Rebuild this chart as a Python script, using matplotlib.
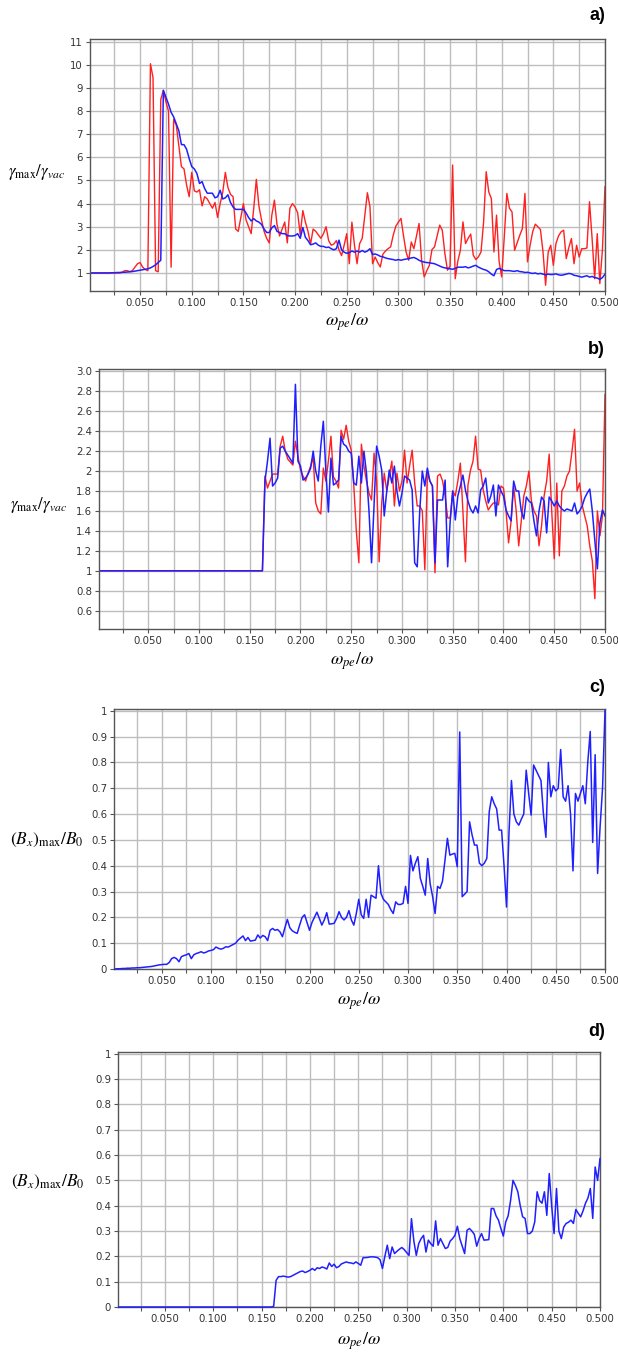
import numpy as np
import matplotlib.pyplot as plt

# omega_pe / omega, one sample every 0.0025
omega_ratio = np.round(np.arange(1, 201) * 0.0025, 4)

# panel a) gamma_max / gamma_vac
gamma_a_red = [
    1.0, 1.0, 1.0, 1.0, 1.0, 1.0, 1.0, 1.0, 1.0, 1.0, 1.0, 1.0, 1.02, 1.1, 1.1, 1.06, 1.1, 1.25, 1.4, 1.45,
    1.25, 1.15, 1.1, 10.05, 9.45, 1.1, 1.05, 8.5, 8.9, 8.4, 8.0, 1.25, 7.65, 7.4, 6.5, 5.6, 5.5, 4.8, 4.3, 5.35,
    4.55, 4.5, 4.6, 3.9, 4.3, 4.2, 4.0, 3.8, 4.05, 3.4, 4.0, 4.5, 5.35, 4.7, 4.4, 4.3, 2.9, 2.8, 3.4, 4.0,
    3.3, 3.0, 2.7, 3.8, 5.05, 3.9, 3.3, 2.8, 2.5, 2.3, 3.5, 4.15, 3.1, 2.6, 2.9, 3.2, 2.3, 3.8, 4.0, 3.85,
    3.6, 2.65, 3.7, 3.2, 2.8, 2.25, 2.9, 2.8, 2.65, 2.5, 2.7, 3.0, 2.4, 2.2, 2.25, 2.4, 2.0, 1.75, 2.2, 2.7,
    1.4, 3.2, 2.2, 1.4, 2.27, 2.5, 3.5, 4.47, 3.86, 1.4, 1.69, 1.45, 1.26, 1.81, 1.95, 2.05, 2.13, 2.63, 3.02, 3.2,
    3.36, 2.6, 1.9, 1.55, 2.34, 2.05, 2.6, 3.14, 1.55, 0.83, 1.1, 1.33, 2.01, 2.13, 2.6, 3.07, 2.85, 1.84, 1.12, 1.3,
    5.67, 0.75, 1.5, 1.98, 3.21, 2.27, 2.5, 2.68, 1.77, 1.58, 1.7, 1.91, 3.21, 5.38, 4.5, 4.22, 1.91, 3.5, 1.5, 0.83,
    2.56, 4.44, 3.8, 3.64, 1.98, 2.3, 2.63, 2.92, 4.44, 1.48, 2.2, 2.78, 3.11, 3.0, 2.88, 1.91, 0.47, 1.9, 2.2, 1.33,
    2.27, 2.6, 2.78, 2.85, 1.62, 2.1, 2.49, 1.4, 2.2, 1.69, 2.05, 2.05, 2.08, 4.08, 2.5, 0.75, 2.7, 0.54, 2.0, 4.73,
]
gamma_a_blue = [
    1.0, 1.0, 1.0, 1.0, 1.0, 1.0, 1.0, 1.0, 1.01, 1.01, 1.02, 1.02, 1.03, 1.03, 1.04, 1.05, 1.06, 1.08, 1.1, 1.12,
    1.14, 1.16, 1.18, 1.22, 1.28, 1.35, 1.45, 1.55, 8.9, 8.6, 8.3, 7.95, 7.75, 7.45, 7.15, 6.55, 6.55, 6.35, 5.95, 5.6,
    5.5, 5.3, 4.87, 4.95, 4.65, 4.45, 4.45, 4.45, 4.25, 4.3, 4.58, 4.2, 4.25, 4.38, 4.05, 3.85, 3.75, 3.75, 3.75, 3.75,
    3.6, 3.4, 3.25, 3.35, 3.25, 3.2, 3.1, 2.9, 2.75, 2.75, 2.95, 3.05, 2.8, 2.75, 2.7, 2.7, 2.62, 2.6, 2.6, 2.62,
    2.7, 2.5, 2.97, 2.54, 2.4, 2.22, 2.25, 2.3, 2.2, 2.15, 2.15, 2.1, 2.12, 2.05, 2.0, 2.05, 2.42, 2.0, 1.9, 1.85,
    1.88, 1.95, 1.9, 1.95, 1.9, 1.97, 1.9, 1.95, 2.05, 1.8, 1.82, 1.78, 1.72, 1.7, 1.65, 1.62, 1.6, 1.58, 1.55, 1.58,
    1.55, 1.58, 1.6, 1.62, 1.65, 1.67, 1.62, 1.55, 1.5, 1.47, 1.45, 1.44, 1.42, 1.4, 1.35, 1.3, 1.25, 1.22, 1.2, 1.18,
    1.16, 1.2, 1.25, 1.25, 1.25, 1.27, 1.22, 1.25, 1.3, 1.33, 1.25, 1.2, 1.15, 1.12, 1.05, 0.95, 0.88, 1.15, 1.2, 1.15,
    1.1, 1.1, 1.1, 1.08, 1.07, 1.1, 1.06, 1.05, 1.02, 1.03, 1.0, 0.98, 1.0, 0.96, 0.98, 0.95, 0.92, 0.95, 0.93, 0.94,
    0.96, 0.92, 0.9, 0.92, 0.95, 0.98, 0.96, 0.9, 0.88, 0.85, 0.82, 0.85, 0.88, 0.82, 0.85, 0.8, 0.78, 0.72, 0.8, 0.95,
]

# panel b) gamma_max / gamma_vac
gamma_b_red = [1.0] * 65 + [
    1.95, 1.83, 1.9, 1.97, 1.97, 1.97, 2.25, 2.35, 2.2, 2.12, 2.09, 2.06, 2.3, 2.15, 2.01,
    1.95, 1.9, 1.98, 2.05, 2.14, 1.68, 1.6, 1.57, 2.03, 1.9, 2.1, 2.35, 1.94, 1.9, 1.83, 2.41, 2.32, 2.46, 2.3, 2.21,
    1.86, 1.4, 1.08, 2.27, 2.05, 1.9, 1.78, 1.71, 2.18, 1.9, 1.09, 1.68, 1.98, 1.8, 1.95, 2.1, 1.65, 1.98, 1.8, 1.9,
    2.21, 1.88, 2.05, 2.21, 1.88, 1.65, 1.65, 1.6, 1.01, 1.98, 1.9, 1.85, 0.98, 1.95, 1.97, 1.9, 1.75, 1.53, 1.53, 1.8,
    1.75, 1.9, 2.08, 1.6, 1.09, 1.86, 2.01, 2.1, 2.35, 2.02, 2.01, 1.81, 1.7, 1.61, 1.65, 1.68, 1.68, 1.66, 1.85, 1.83,
    1.6, 1.28, 1.5, 1.85, 1.6, 1.25, 1.5, 1.75, 1.85, 2.0, 1.7, 1.6, 1.55, 1.25, 1.45, 1.75, 1.9, 2.17, 1.6, 1.12,
    1.88, 1.15, 1.8, 1.85, 1.95, 2.0, 2.2, 2.42, 1.8, 1.88, 1.66, 1.55, 1.45, 1.25, 1.1, 0.72, 1.6, 1.35, 1.55, 2.77,
]
gamma_b_blue = [1.0] * 65 + [
    1.9, 2.1, 2.33, 1.85, 1.88, 1.93, 2.23, 2.25, 2.2, 2.16, 2.12, 2.08, 2.87, 2.1, 2.05,
    1.91, 1.93, 1.97, 2.03, 2.2, 2.0, 1.9, 2.25, 2.5, 2.0, 1.59, 2.13, 1.86, 1.88, 1.91, 2.35, 2.27, 2.25, 2.2, 2.18,
    1.88, 1.86, 2.15, 1.88, 2.2, 1.98, 1.6, 1.08, 1.66, 2.25, 2.15, 2.01, 1.55, 1.8, 2.01, 1.88, 2.05, 1.8, 1.65, 1.78,
    1.95, 1.93, 1.91, 1.81, 1.08, 1.04, 1.6, 2.0, 1.85, 2.03, 1.9, 1.85, 1.08, 1.71, 1.71, 1.71, 1.91, 1.04, 1.5, 1.8,
    1.51, 1.75, 1.85, 1.96, 1.81, 1.7, 1.62, 1.58, 1.65, 1.58, 1.81, 1.85, 1.93, 1.68, 1.75, 1.86, 1.55, 1.86, 1.8, 1.75,
    1.61, 1.55, 1.5, 1.9, 1.8, 1.8, 1.6, 1.52, 1.74, 1.7, 1.68, 1.5, 1.35, 1.6, 1.74, 1.7, 1.38, 1.74, 1.7, 1.65,
    1.7, 1.65, 1.62, 1.6, 1.62, 1.61, 1.6, 1.68, 1.57, 1.6, 1.65, 1.73, 1.78, 1.82, 1.6, 1.3, 1.02, 1.48, 1.61, 1.55,
]

# panel c) (Bx)max / B0
bx_c = [
    0.0, 0.001, 0.001, 0.002, 0.002, 0.003, 0.003, 0.004, 0.004, 0.005,
    0.005, 0.006, 0.007, 0.008, 0.009, 0.01, 0.012, 0.014, 0.016, 0.017,
    0.018, 0.018, 0.025, 0.04, 0.045, 0.04, 0.028, 0.048, 0.052, 0.055,
    0.06, 0.04, 0.055, 0.06, 0.063, 0.067, 0.062, 0.065, 0.07, 0.072,
    0.075, 0.085, 0.08, 0.077, 0.08, 0.086, 0.085, 0.09, 0.095, 0.1,
    0.112, 0.12, 0.128, 0.11, 0.122, 0.108, 0.11, 0.112, 0.132, 0.12,
    0.13, 0.125, 0.11, 0.15, 0.157, 0.15, 0.153, 0.144, 0.125, 0.16,
    0.192, 0.16, 0.148, 0.142, 0.138, 0.17, 0.2, 0.21, 0.18, 0.15,
    0.18, 0.2, 0.22, 0.196, 0.17, 0.19, 0.218, 0.174, 0.175, 0.177,
    0.196, 0.222, 0.2, 0.19, 0.2, 0.226, 0.19, 0.17, 0.215, 0.27,
    0.21, 0.196, 0.27, 0.2, 0.286, 0.28, 0.274, 0.4, 0.293, 0.27,
    0.26, 0.25, 0.23, 0.215, 0.26, 0.25, 0.25, 0.254, 0.32, 0.254,
    0.44, 0.38, 0.41, 0.435, 0.351, 0.32, 0.286, 0.428, 0.33, 0.28,
    0.215, 0.32, 0.312, 0.34, 0.42, 0.506, 0.441, 0.445, 0.448, 0.396,
    0.918, 0.28, 0.29, 0.3, 0.57, 0.52, 0.48, 0.48, 0.41, 0.4,
    0.41, 0.428, 0.61, 0.667, 0.64, 0.62, 0.538, 0.538, 0.4, 0.24,
    0.525, 0.73, 0.6, 0.57, 0.557, 0.58, 0.6, 0.77, 0.68, 0.596,
    0.79, 0.77, 0.75, 0.73, 0.6, 0.51, 0.8, 0.667, 0.71, 0.69,
    0.7, 0.85, 0.667, 0.65, 0.71, 0.6, 0.38, 0.68, 0.65, 0.68,
    0.71, 0.64, 0.8, 0.92, 0.49, 0.83, 0.37, 0.55, 0.7, 1.0,
]

# panel d) (Bx)max / B0
bx_d = [0.0] * 64 + [
    0.003, 0.105, 0.12, 0.12, 0.122, 0.12,
    0.118, 0.12, 0.125, 0.13, 0.135, 0.14, 0.142, 0.136, 0.14, 0.145,
    0.152, 0.145, 0.155, 0.152, 0.158, 0.155, 0.15, 0.174, 0.16, 0.169,
    0.155, 0.16, 0.17, 0.174, 0.178, 0.175, 0.174, 0.171, 0.178, 0.172,
    0.165, 0.195, 0.195, 0.196, 0.198, 0.198, 0.197, 0.195, 0.187, 0.152,
    0.2, 0.244, 0.191, 0.237, 0.211, 0.22, 0.228, 0.235, 0.227, 0.215,
    0.204, 0.349, 0.26, 0.204, 0.25, 0.27, 0.283, 0.217, 0.264, 0.25,
    0.24, 0.34, 0.244, 0.27, 0.25, 0.231, 0.235, 0.26, 0.27, 0.283,
    0.319, 0.27, 0.24, 0.211, 0.303, 0.31, 0.3, 0.287, 0.24, 0.27,
    0.29, 0.264, 0.265, 0.266, 0.389, 0.389, 0.36, 0.343, 0.31, 0.28,
    0.336, 0.36, 0.42, 0.5, 0.48, 0.455, 0.4, 0.356, 0.35, 0.29,
    0.29, 0.3, 0.336, 0.455, 0.42, 0.41, 0.455, 0.362, 0.527, 0.4,
    0.29, 0.468, 0.3, 0.27, 0.316, 0.33, 0.335, 0.343, 0.33, 0.385,
    0.37, 0.356, 0.38, 0.41, 0.43, 0.468, 0.35, 0.553, 0.5, 0.586,
]

RED = '#ff2020'
BLUE = '#2020ff'
W, H = 618, 1357

plt.rcParams['mathtext.fontset'] = 'stix'
fig = plt.figure(figsize=(W / 100, H / 100), dpi=100)


def pos(x, y):
    return x / W, 1 - y / H


def make_axes(left, top, right, bottom, ylim, yticks, ylabels):
    ax = fig.add_axes([left / W, 1 - bottom / H, (right - left) / W, (bottom - top) / H])
    ax.set_xlim(0.0015, 0.5)
    ax.set_ylim(*ylim)
    xt = np.arange(1, 21) * 0.025
    ax.set_xticks(xt)
    ax.set_xticklabels(['%.3f' % t if i % 2 == 1 else '' for i, t in enumerate(xt)])
    ax.set_yticks(yticks)
    ax.set_yticklabels(ylabels)
    ax.grid(True, color='#bdbdbd', linewidth=1.0)
    ax.set_axisbelow(True)
    ax.tick_params(direction='out', length=3, width=0.8, color='#555555',
                   labelsize=7.3, labelcolor='#333333', pad=2)
    for s in ax.spines.values():
        s.set_color('#555555')
        s.set_linewidth(1.0)
    return ax


xlabel = r'$\omega_{pe}/\omega$'
gamma_label = r'$\gamma_{\mathrm{max}}/\gamma_{vac}$'
bx_label = r'$\left(B_x\right)_{\mathrm{max}}/B_0$'

# a)
ax = make_axes(90, 39, 605, 291, (0.22, 11.12), range(1, 12), [str(i) for i in range(1, 12)])
ax.plot(omega_ratio, gamma_a_red, color=RED, lw=1.0)
ax.plot(omega_ratio, gamma_a_blue, color=BLUE, lw=1.1)
fig.text(*pos(605, 16), 'a)', ha='right', va='center', fontsize=13, fontweight='bold', family='Liberation Sans')
fig.text(*pos(347, 322), xlabel, ha='center', va='center', fontsize=13)
fig.text(*pos(37, 172), gamma_label, ha='center', va='center', fontsize=12)

# b)
b_ticks = np.round(np.arange(0.6, 3.01, 0.2), 1)
b_labels = ['0.6', '0.8', '1', '1.2', '1.4', '1.6', '1.8', '2', '2.2', '2.4', '2.6', '2.8', '3.0']
ax = make_axes(99, 369, 605, 629, (0.416, 3.024), b_ticks, b_labels)
ax.plot(omega_ratio, gamma_b_red, color=RED, lw=1.0)
ax.plot(omega_ratio, gamma_b_blue, color=BLUE, lw=1.1)
fig.text(*pos(605, 349), 'b)', ha='right', va='center', fontsize=13, fontweight='bold', family='Liberation Sans')
fig.text(*pos(352, 661), xlabel, ha='center', va='center', fontsize=13)
fig.text(*pos(39, 505), gamma_label, ha='center', va='center', fontsize=12)

# c) and d)
bx_ticks = np.round(np.arange(0, 1.01, 0.1), 1)
bx_labels = ['0'] + ['%.1f' % t for t in bx_ticks[1:-1]] + ['1']

ax = make_axes(114, 709, 605, 969, (0, 1.007), bx_ticks, bx_labels)
ax.plot(omega_ratio, bx_c, color=BLUE, lw=1.1, clip_on=False, zorder=3)
fig.text(*pos(605, 688), 'c)', ha='right', va='center', fontsize=13, fontweight='bold', family='Liberation Sans')
fig.text(*pos(359, 1001), xlabel, ha='center', va='center', fontsize=13)
fig.text(*pos(47, 840), bx_label, ha='center', va='center', fontsize=12.5)

ax = make_axes(118, 1052, 600, 1307, (0, 1.007), bx_ticks, bx_labels)
ax.plot(omega_ratio, bx_d, color=BLUE, lw=1.1, clip_on=False, zorder=3)
fig.text(*pos(605, 1031), 'd)', ha='right', va='center', fontsize=13, fontweight='bold', family='Liberation Sans')
fig.text(*pos(359, 1341), xlabel, ha='center', va='center', fontsize=13)
fig.text(*pos(48, 1182), bx_label, ha='center', va='center', fontsize=12.5)

fig.savefig('out.png', dpi=100)
